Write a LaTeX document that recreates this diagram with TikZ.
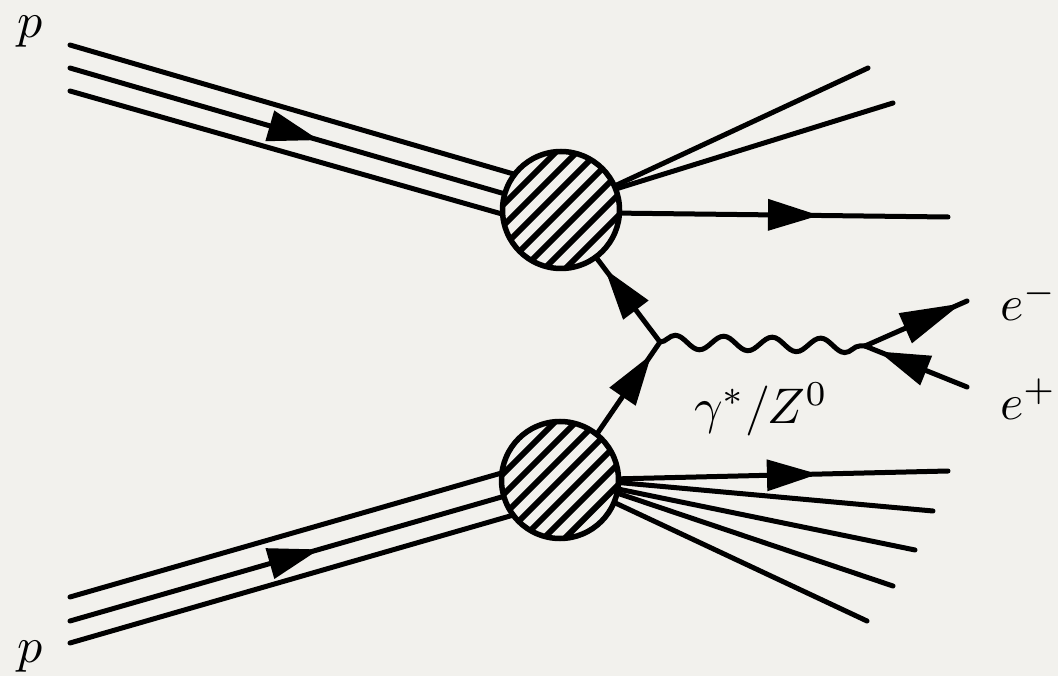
\documentclass[tikz,border=0pt]{standalone}
\usetikzlibrary{decorations.markings,decorations.pathmorphing}
\definecolor{paper}{RGB}{242,241,237}
\pgfdeclarelayer{back}
\pgfdeclarelayer{lines}
\pgfsetlayers{back,lines,main}
\newcommand{\bigtxt}[1]{\scalebox{5}{#1}}
\begin{document}
\begin{tikzpicture}[x=1pt,y=-1pt,
  fl/.style={line width=5pt, line cap=round},
  blob/.style={circle, draw, line width=5.5pt, minimum size=117pt, inner sep=0pt, fill=paper,
    path picture={\foreach \k in {-6,...,6}
      \draw[line width=6pt,line cap=butt] ([xshift=\k*21pt]path picture bounding box.center) ++(-90pt,-90pt) -- ++(180pt,180pt);}},
  arr/.style={postaction={decorate}, decoration={markings, mark=at position #1 with
    {\fill (1pt,0pt) -- (-50pt,16pt) -- (-50pt,-16pt) -- cycle;}}},
  bigarr/.style={postaction={decorate}, decoration={markings, mark=at position #1 with
    {\fill (1pt,0pt) -- (-60pt,16.5pt) -- (-60pt,-16.5pt) -- cycle;}}},
  photon/.style={fl, decorate, decoration={snake, segment length=48.5pt, amplitude=7pt}},
  lbl/.style={inner sep=0pt}]

\begin{pgfonlayer}{back}
  \fill[paper] (0,0) rectangle (1058,676);
\end{pgfonlayer}

% blobs
\node[blob] (B1) at (561,210) {};
\node[blob] (B2) at (560,480) {};

% coordinates
\coordinate (pa1) at (70,45);  \coordinate (qa1) at (517,175);
\coordinate (pa2) at (70,68);  \coordinate (qa2) at (512,196);
\coordinate (pa3) at (70,91);  \coordinate (qa3) at (509,216);
\coordinate (pb1) at (70,597); \coordinate (qb1) at (512,470);
\coordinate (pb2) at (70,621); \coordinate (qb2) at (512,494);
\coordinate (pb3) at (70,643); \coordinate (qb3) at (517,514);
\coordinate (sc1) at (606,190); \coordinate (ec1) at (868,68);
\coordinate (sc2) at (606,192); \coordinate (ec2) at (893,103);
\coordinate (sc3) at (610,213); \coordinate (ec3) at (948,217);
\coordinate (sd1) at (612,479); \coordinate (ed1) at (948,471);
\coordinate (sd2) at (613,482); \coordinate (ed2) at (933,511);
\coordinate (sd3) at (613,488); \coordinate (ed3) at (915,550);
\coordinate (sd4) at (611,491); \coordinate (ed4) at (893,586);
\coordinate (sd5) at (609,500); \coordinate (ed5) at (867,621);
\coordinate (V) at (660,342);
\coordinate (fu) at (592,252);
\coordinate (fl) at (588,447);
\coordinate (W) at (865,346);
\coordinate (E1) at (967,301);
\coordinate (E2) at (967,387);

\begin{pgfonlayer}{lines}
  \draw[fl] (pa1) -- (qa1);
  \draw[fl, arr=258pt] (pa2) -- (qa2);
  \draw[fl] (pa3) -- (qa3);
  \draw[fl] (pb1) -- (qb1);
  \draw[fl, arr=258pt] (pb2) -- (qb2);
  \draw[fl] (pb3) -- (qb3);
  \draw[fl] (sc1) -- (ec1);
  \draw[fl] (sc2) -- (ec2);
  \draw[fl, arr=208pt] (sc3) -- (ec3);
  \draw[fl, arr=205pt] (sd1) -- (ed1);
  \draw[fl] (sd2) -- (ed2);
  \draw[fl] (sd3) -- (ed3);
  \draw[fl] (sd4) -- (ed4);
  \draw[fl] (sd5) -- (ed5);
  \draw[fl, arr=90pt] (V) -- (fu);
  \draw[fl, arr=111pt] (fl) -- (V);
\end{pgfonlayer}

\draw[photon] (V) -- (W);
\draw[fl, bigarr=104pt] (W) -- (E1);
\draw[fl, arr=94pt] (E2) -- (W);

% labels
\node[lbl, anchor=base] (p1) at (30,38) {\bigtxt{$p$}};
\node[lbl, anchor=base] (p2) at (30,662) {\bigtxt{$p$}};
\node[lbl, anchor=base west] (em) at (1000,321) {\bigtxt{$e^-$}};
\node[lbl, anchor=base west] (ep) at (1000,419) {\bigtxt{$e^+$}};
\node[lbl, anchor=base] (gz) at (761,424) {\bigtxt{$\gamma^*/Z^0$}};
\end{tikzpicture}
\end{document}
